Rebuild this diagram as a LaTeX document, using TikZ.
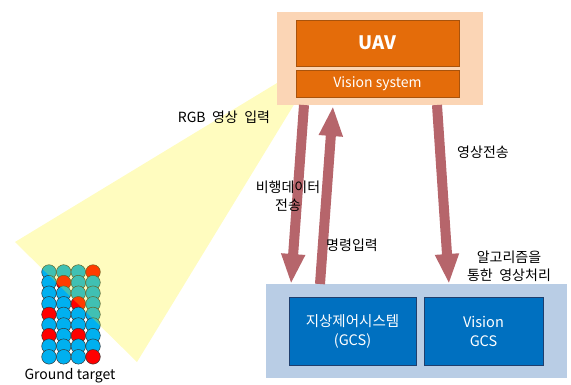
\documentclass[tikz,border=0pt]{standalone}
\usepackage{fontspec}
\setmainfont{Noto Sans CJK KR}
\usetikzlibrary{arrows.meta}

\definecolor{peach}{HTML}{FBD5B5}
\definecolor{uavorange}{HTML}{E46C0A}
\definecolor{uavedge}{HTML}{A9530C}
\definecolor{gcsfill}{HTML}{0070C0}
\definecolor{gcsedge}{HTML}{1F3F6E}
\definecolor{basefill}{HTML}{B9CDE5}
\definecolor{flow}{HTML}{B6656B}
\definecolor{tblue}{HTML}{00B0F0}
\definecolor{tred}{HTML}{FF0000}

\newcommand{\wsp}{\hspace{6.5pt}}

\tikzset{
  panel/.style={rectangle, inner sep=0pt, draw=none},
  uavbox/.style={rectangle, inner sep=0pt, fill=uavorange, draw=uavedge, line width=0.8pt, text=white},
  gcsbox/.style={rectangle, inner sep=0pt, fill=gcsfill, draw=gcsedge, line width=0.9pt, text=white, align=center,
    font=\fontsize{14.5}{19}\selectfont},
  lbl/.style={inner sep=0pt, align=center, text=black, font=\fontsize{14}{18}\selectfont},
  flowarrow/.style={draw=flow, line width=10pt, -{Triangle[length=30pt,width=22pt]}},
  blueball/.style={circle, draw=black!80, line width=0.5pt, fill=tblue, minimum size=14.6pt, inner sep=0pt},
  redball/.style={blueball, fill=tred},
}

\begin{document}
\begin{tikzpicture}[x=1pt,y=-1pt]
\useasboundingbox (0,0) rectangle (571,384);

% ground target: 9 rows x 4 columns of markers
\foreach \row/\reds in {0/{3},1/{1},2/{},3/{2},4/{0},5/{},6/{0,2},7/{},8/{3}}{
  \foreach \col in {0,1,2,3}{
    \gdef\sty{blueball}
    \foreach \r in \reds {\ifnum\r=\col\relax\global\def\sty{redball}\fi}
    \node[\sty] (t\row\col) at ({49+14.67*\col},{272+10.6*\row}) {};
  }
}
\node[lbl] (gt) at (70,376) {Ground target};

% camera field of view
\fill[yellow, opacity=0.25] (15,242) -- (137,362) -- (309,80) -- (282,80) -- cycle;

% UAV
\node[panel, fill=peach, minimum width=206pt, minimum height=93pt] (uavpanel) at (380,58.5) {};
\node[uavbox, minimum width=163pt, minimum height=46pt, font=\fontsize{18.5}{22}\selectfont\bfseries] (uav) at (377.5,43) {UAV};
\node[uavbox, minimum width=163pt, minimum height=27pt, font=\fontsize{14}{16}\selectfont] (vision) at (377.5,83.5) {Vision system};

% ground station
\node[panel, fill=basefill, minimum width=301pt, minimum height=94pt] (base) at (416.5,331) {};
\node[gcsbox, minimum width=127pt, minimum height=68pt] (gcs) at (352.5,331) {지상제어시스템\\(GCS)};
\node[gcsbox, minimum width=119pt, minimum height=68pt] (vgcs) at (483.5,331) {Vision\\GCS};

% connector ends on the panels
\coordinate (dl0) at (304,105);
\coordinate (dl1) at (291,284);
\coordinate (up0) at (320,284);
\coordinate (up1) at (333,106);
\coordinate (dr0) at (437,105);
\coordinate (dr1) at (449,284);

\draw[flowarrow] (dl0) -- (dl1);
\draw[flowarrow] (up0) -- (up1);
\draw[flowarrow] (dr0) -- (dr1);

% labels
\node[lbl] (rgb) at (224,117) {RGB\wsp 영상\wsp 입력};
\node[lbl] (fly) at (288,196) {비행데이터\\전송};
\node[lbl] (cmd) at (352,245) {명령입력};
\node[lbl] (tx) at (483,152) {영상전송};
\node[lbl] (proc) at (509,266) {알고리즘을\\통한\wsp 영상처리};
\end{tikzpicture}
\end{document}
